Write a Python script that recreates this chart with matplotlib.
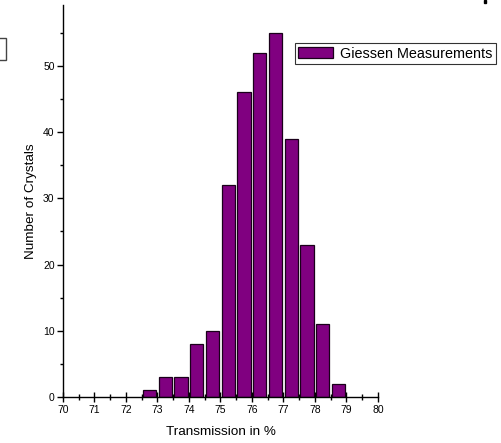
import matplotlib
matplotlib.use("Agg")
import matplotlib.pyplot as plt
from matplotlib.patches import Rectangle
from matplotlib.ticker import MultipleLocator

# histogram bins (centres, % transmission) and counts
bin_centers = [72.75, 73.25, 73.75, 74.25, 74.75, 75.25, 75.75,
               76.25, 76.75, 77.25, 77.75, 78.25, 78.75]
counts = [1, 3, 3, 8, 10, 32, 46, 52, 55, 39, 23, 11, 2]
series_name = "Giessen Measurements"

plt.rcParams["font.family"] = ["Liberation Sans", "DejaVu Sans"]

fig = plt.figure(figsize=(5.01, 4.43), dpi=100)
ax = fig.add_axes([0.1257, 0.1038, 0.6287, 0.885])

ax.bar(bin_centers, counts, width=0.42, color="#800080",
       edgecolor="#1a001a", linewidth=0.9, label=series_name)

ax.set_xlim(70, 80)
ax.set_ylim(0, 59.2)
ax.xaxis.set_major_locator(MultipleLocator(1))
ax.xaxis.set_minor_locator(MultipleLocator(0.5))
ax.yaxis.set_major_locator(MultipleLocator(10))
ax.yaxis.set_minor_locator(MultipleLocator(5))

for s in ("top", "right"):
    ax.spines[s].set_visible(False)
for s in ("left", "bottom"):
    ax.spines[s].set_linewidth(1.0)

ax.tick_params(axis="x", which="major", direction="inout", length=7, width=1,
               labelsize=7.5, pad=2)
ax.tick_params(axis="x", which="minor", direction="inout", length=4, width=1)
ax.tick_params(axis="y", which="major", direction="out", length=4, width=1,
               labelsize=7.5, pad=2)
ax.tick_params(axis="y", which="minor", direction="out", length=2, width=1)

ax.set_xlabel("Transmission in %", fontsize=9.7, labelpad=8)
ax.set_ylabel("Number of Crystals", fontsize=9.7, labelpad=4)

leg = ax.legend(loc="upper left", bbox_to_anchor=(0.736, 0.903), fontsize=10.4,
                frameon=True, fancybox=False, borderpad=0.25, handlelength=2.4,
                handleheight=0.8, handletextpad=0.5, borderaxespad=0)
leg.get_frame().set_edgecolor("black")
leg.get_frame().set_linewidth(0.8)

# cropped remnants at the figure edges
fig.add_artist(Rectangle((-0.01, 383 / 443), 0.022, 22 / 443,
                         transform=fig.transFigure, fill=False,
                         edgecolor="#444444", linewidth=1))
fig.add_artist(Rectangle((484 / 501, 440 / 443), 2 / 501, 3 / 443,
                         transform=fig.transFigure, color="black"))

fig.savefig("out.png", dpi=100)
